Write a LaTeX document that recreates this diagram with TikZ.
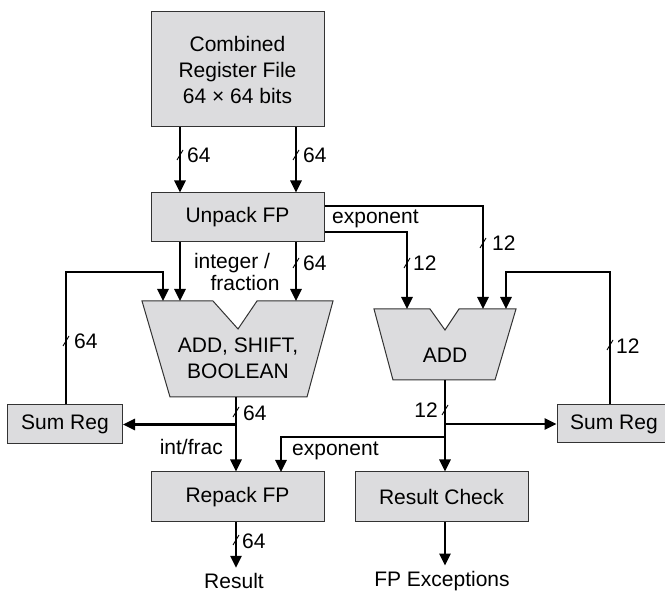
\documentclass[tikz,border=0pt]{standalone}
\usepackage{fontspec}
\setmainfont{Liberation Sans}
\usetikzlibrary{arrows.meta,calc}
\definecolor{boxgray}{HTML}{DCDCDE}

\begin{document}
\begin{tikzpicture}[
    x=1pt, y=-1pt,
    font=\fontsize{21}{26}\selectfont,
    boxStyle/.style={rectangle, draw=black!80, line width=1pt, fill=boxgray, inner sep=0pt},
    aluStyle/.style={draw=black!80, line width=1pt, fill=boxgray},
    wireStyle/.style={line width=2.5pt, -{Triangle[length=12pt, width=11pt]}},
    tickStyle/.style={line width=0.9pt},
    labelStyle/.style={inner sep=1pt}
]
    \useasboundingbox (0,0) rectangle (665,593);

    % Register file and unpack
    \node[boxStyle, minimum width=173pt, minimum height=115pt, align=center] (regfile) at (237.5,69.5) {Combined\\Register File\\64 × 64 bits};
    \node[boxStyle, minimum width=173pt, minimum height=49pt] (unpack) at (237.5,217.5) {Unpack FP};

    % ALU: add, shift, boolean
    \draw[aluStyle] (142,301) -- (213,301) -- (238,329) -- (257,301) -- (333,301) -- (307,397) -- (170,397) -- cycle;
    \node[align=center] (alu) at (238,358) {ADD, SHIFT,\\BOOLEAN};
    \coordinate (aluInA) at (163,301);
    \coordinate (aluInB) at (180,301);
    \coordinate (aluInC) at (296,301);
    \coordinate (aluOut) at (236,397);

    % ALU: exponent add
    \draw[aluStyle] (374,309) -- (430,309) -- (445,330) -- (459,309) -- (516,309) -- (495,380) -- (393,380) -- cycle;
    \node (add) at (445,355) {ADD};
    \coordinate (addInA) at (407,309);
    \coordinate (addInB) at (483,309);
    \coordinate (addInC) at (506,309);
    \coordinate (addOut) at (445,380);

    % Sum registers
    \node[boxStyle, minimum width=115pt, minimum height=39pt] (sumL) at (65,424.5) {Sum Reg};
    \node[boxStyle, minimum width=114pt, minimum height=38pt] (sumR) at (614,424) {Sum Reg};

    % Repack and result check
    \node[boxStyle, minimum width=173pt, minimum height=50pt] (repack) at (237.5,497) {Repack FP};
    \node[boxStyle, minimum width=173pt, minimum height=50pt] (check) at (441.5,497) {Result Check};
    \coordinate (expTap) at (445,437);
    \coordinate (repackExp) at (281,472);

    % Outputs
    \node (result) at (234,581) {Result};
    \node (fpexc) at (442,581) {FP Exceptions};

    % Wires
    \draw[wireStyle] (regfile.south -| aluInB) -- (unpack.north -| aluInB);
    \draw[wireStyle] (regfile.south -| aluInC) -- (unpack.north -| aluInC);
    \draw[wireStyle] (unpack.south -| aluInB) -- (aluInB);
    \draw[wireStyle] (unpack.south -| aluInC) -- (aluInC);
    \draw[wireStyle] ([yshift=11.5pt]unpack.east) -| (addInB);
    \draw[wireStyle] ([yshift=-14.5pt]unpack.east) -| (addInA);
    \draw[wireStyle] (sumL.north -| 66,0) |- ([yshift=29pt]aluInA) -- (aluInA);
    \draw[wireStyle] (sumR.north -| 610,0) |- ([yshift=37pt]addInC) -- (addInC);
    \draw[wireStyle] (aluOut) -- (repack.north -| aluOut);
    \draw[wireStyle] (aluOut |- sumL.east) -- (sumL.east);
    \draw[wireStyle] (addOut) -- (check.north -| addOut);
    \draw[wireStyle] (addOut |- sumR.west) -- (sumR.west);
    \draw[wireStyle] (expTap) -| (repackExp);
    \draw[wireStyle] (repack.south -| aluOut) -- ([yshift=2pt]result.north -| aluOut);
    \draw[wireStyle] (check.south -| addOut) -- ([yshift=2pt]fpexc.north -| addOut);

    % Bus widths
    \draw[tickStyle] (180,155) ++(-3,5) -- ++(6,-10);
    \node[labelStyle, anchor=west] (wRegA) at (186,155) {64};
    \draw[tickStyle] (296,155) ++(-3,5) -- ++(6,-10);
    \node[labelStyle, anchor=west] (wRegB) at (302,155) {64};
    \draw[tickStyle] (296,263) ++(-3,5) -- ++(6,-10);
    \node[labelStyle, anchor=west] (wFrac) at (302,263) {64};
    \draw[tickStyle] (407,263) ++(-3,5) -- ++(6,-10);
    \node[labelStyle, anchor=west] (wExpA) at (412,263) {12};
    \draw[tickStyle] (483,243) ++(-3,5) -- ++(6,-10);
    \node[labelStyle, anchor=west] (wExpB) at (491,243) {12};
    \draw[tickStyle] (66,341) ++(-3,5) -- ++(6,-10);
    \node[labelStyle, anchor=west] (wSumL) at (73,341) {64};
    \draw[tickStyle] (236,412) ++(-3,5) -- ++(6,-10);
    \node[labelStyle, anchor=west] (wAlu) at (242,413) {64};
    \draw[tickStyle] (445,410) ++(-3,5) -- ++(6,-10);
    \node[labelStyle, anchor=east] (wAdd) at (439,410) {12};
    \draw[tickStyle] (610,345) ++(-3,5) -- ++(6,-10);
    \node[labelStyle, anchor=west] (wSumR) at (615,346) {12};
    \draw[tickStyle] (236,540) ++(-3,5) -- ++(6,-10);
    \node[labelStyle, anchor=west] (wRes) at (241,541) {64};

    % Signal names
    \node[labelStyle, anchor=west] (lExpTop) at (331,219) {exponent};
    \node[labelStyle] (lInt) at (232,263) {integer /};
    \node[labelStyle] (lFrac) at (245,283) {fraction};
    \node[labelStyle, anchor=east] (lIntFrac) at (224,447) {int/frac};
    \node[labelStyle, anchor=west] (lExpBot) at (291,451) {exponent};
\end{tikzpicture}
\end{document}
